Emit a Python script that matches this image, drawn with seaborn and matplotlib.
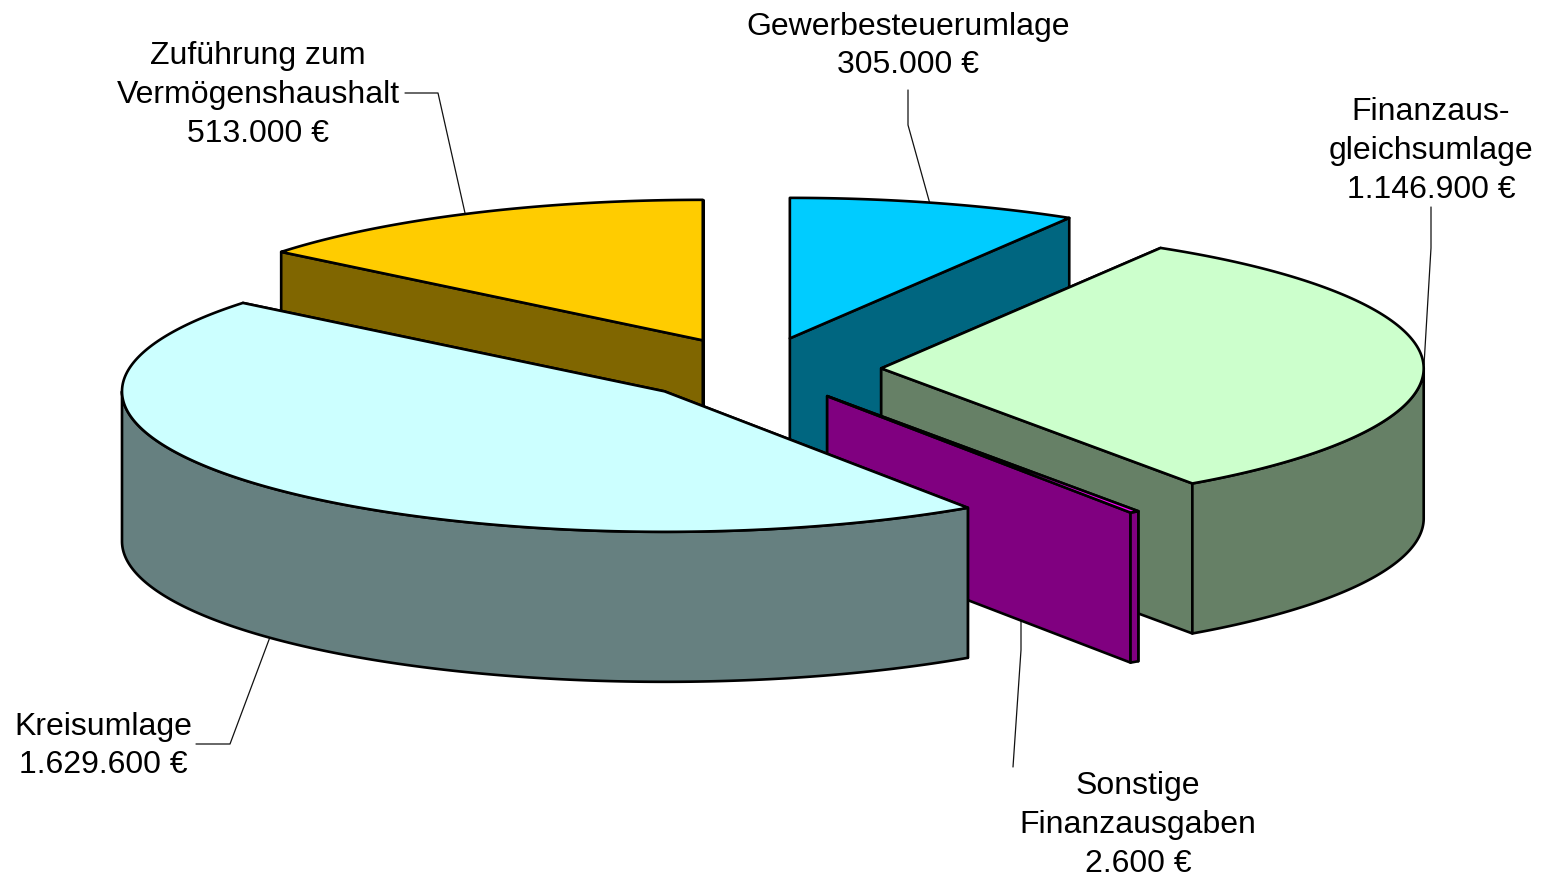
import numpy as np
import seaborn as sns
import matplotlib.pyplot as plt
from matplotlib.patches import Polygon

# Pie data, clockwise from 12 o'clock
categories = ['Gewerbesteuerumlage', 'Finanzausgleichsumlage', 'Sonstige Finanzausgaben', 'Kreisumlage', 'Zuführung zum Vermögenshaushalt']
values = [305000, 1146900, 2600, 1629600, 513000]
top_colors = ['#00CCFF', '#CCFFCC', '#FF00FF', '#CCFFFF', '#FFCC00']
labels = ['Gewerbesteuerumlage\n305.000 €',
          'Finanzaus-\ngleichsumlage\n1.146.900 €',
          'Sonstige\nFinanzausgaben\n2.600 €',
          'Kreisumlage\n1.629.600 €',
          'Zuführung zum\nVermögenshaushalt\n513.000 €']
label_x = [908, 1431, 1138, 103, 258]
label_y = [46, 151, 825, 746, 95]
leader_x = [[908, 908, 930], [1431, 1431, 1424], [1013, 1021, 1021], [196, 230, 270], [405, 438, 465]]
leader_y = [[90, 125, 204], [207, 248, 365], [767, 650, 620], [744, 744, 637], [93, 93, 213]]

# Pie layout in pixels
cx, cy = 756.5, 369.5
rx, ry = 542.5, 140.5
depth = 150
explode = 0.23
draw_order = [4, 0, 1, 2, 3]

sns.set_theme(style='white')
plt.rcParams['font.family'] = ['Liberation Sans', 'DejaVu Sans']

fig, ax = plt.subplots(figsize=(15.53, 8.8), dpi=100)
ax.set_position([0, 0, 1, 1])
ax.set_xlim(0, 1553)
ax.set_ylim(880, 0)
ax.axis('off')

palette = sns.color_palette(top_colors)

# Slice boundaries from the values, snapped to whole degrees
ends = np.round(np.cumsum(values) / np.sum(values) * 360)
starts = np.concatenate([[0], ends[:-1]])


def arc(x0, y0, a, b):
    t = np.radians(np.linspace(a, b, 200))
    return np.column_stack([x0 + rx * np.sin(t), y0 - ry * np.cos(t)])


def add_poly(points, color):
    ax.add_patch(Polygon(points, closed=True, facecolor=color, edgecolor='black', linewidth=1.9, joinstyle='round'))


# Leader lines go under the slices
for xs, ys in zip(leader_x, leader_y):
    ax.plot(xs, ys, color='#111111', linewidth=0.9, zorder=0.5)

for i in draw_order:
    a, b = starts[i], ends[i]
    mid = np.radians((a + b) / 2)
    x0 = cx + explode * rx * np.sin(mid)
    y0 = cy - explode * ry * np.cos(mid)
    side = tuple(c * 0.5 for c in palette[i])
    drop = np.array([0, depth])
    apex = np.array([x0, y0])

    # Cut faces
    for ang in (a, b):
        edge = arc(x0, y0, ang, ang)[0]
        add_poly([apex, edge, edge + drop, apex + drop], side)

    # Outer rim, only the front half of the ellipse shows
    ra, rb = max(a, 90), min(b, 270)
    if ra < rb:
        rim = arc(x0, y0, ra, rb)
        add_poly(np.vstack([rim, rim[::-1] + drop]), side)

    # Top
    add_poly(np.vstack([apex, arc(x0, y0, a, b)]), palette[i])

for text, x, y in zip(labels, label_x, label_y):
    ax.text(x, y, text, ha='center', va='center', fontsize=23, color='black', linespacing=1.38)

fig.savefig('out.png', dpi=100, facecolor='white')
